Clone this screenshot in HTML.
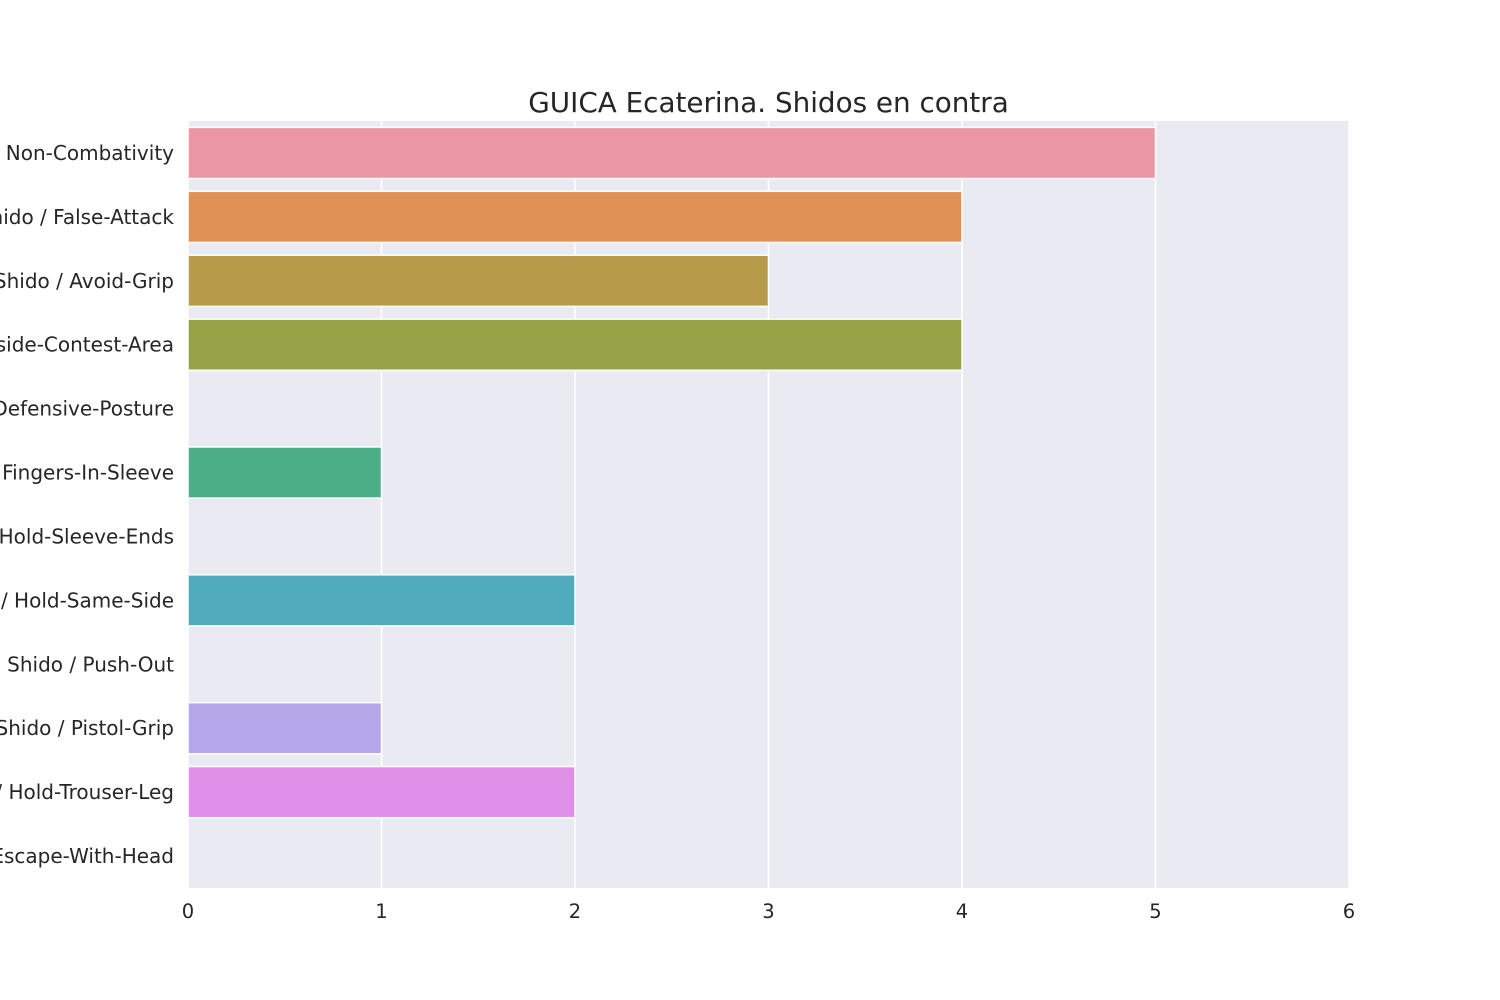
<!DOCTYPE html>
<html><head><meta charset="utf-8"><style>
html,body{margin:0;padding:0;background:#fff;width:1500px;height:1000px;overflow:hidden}
svg{display:block;font-family:"DejaVu Sans","Liberation Sans",sans-serif}
</style></head><body>
<svg id="chart" width="1500" height="1000" xmlns="http://www.w3.org/2000/svg">
<rect x="0" y="0" width="1500" height="1000" fill="#fff"/>
<text x="768.5" y="112" text-anchor="middle" font-size="27.8" fill="#262626">GUICA Ecaterina. Shidos en contra</text>
<g id="plot"></g>
</svg>
<script>
const categories = ["Shido / Non-Combativity","Shido / False-Attack","Shido / Avoid-Grip","Shido / Outside-Contest-Area","Shido / Defensive-Posture","Shido / Fingers-In-Sleeve","Shido / Hold-Sleeve-Ends","Shido / Hold-Same-Side","Shido / Push-Out","Shido / Pistol-Grip","Shido / Hold-Trouser-Leg","Shido / Escape-With-Head"];
const values = [5,4,3,4,0,1,0,2,0,1,2,0];
const colors = ["#ea96a3","#e09155","#b89b4a","#98a246","#6fab56","#4caf88","#4eae9f","#50abbd","#7ea6dc","#b6a7eb","#df8fe7","#e592c6"];
const xTicks = [0,1,2,3,4,5,6];

const L=188,R=1349,T=121,B=888,XMAX=6;
const xs=v=>L+(R-L)*v/XMAX;
const band=(B-T)/categories.length;
const ys=i=>T+band*i;
const NS="http://www.w3.org/2000/svg";
const g=document.getElementById('plot');
function mk(t,a){const e=document.createElementNS(NS,t);for(const k in a)e.setAttribute(k,a[k]);g.appendChild(e);return e;}

const bg=mk('rect',{x:L,y:T,width:R-L,height:B-T,fill:'#eaeaf2'});



xTicks.forEach(t=>{
  const ln=mk('line',{x1:xs(t),x2:xs(t),y1:T,y2:B,stroke:'#fff','stroke-width':1.5});
  
  
  const tx=mk('text',{x:xs(t),y:B+30,'text-anchor':'middle','font-size':19.5,fill:'#262626'});
  tx.textContent=t;
  
  
});

categories.forEach((c,i)=>{
  const y0=ys(i)+band*0.1, h=band*0.8;
  if(values[i]>0){
    const r=mk('rect',{x:xs(0),y:y0,width:xs(values[i])-xs(0),height:h,fill:colors[i],stroke:'#fff','stroke-width':1.5});
    
    
  }
  const tx=mk('text',{x:174,y:ys(i)+band/2+7,'text-anchor':'end','font-size':20,fill:'#262626'});
  tx.textContent=c;
  
  
});
</script>
</body></html>
